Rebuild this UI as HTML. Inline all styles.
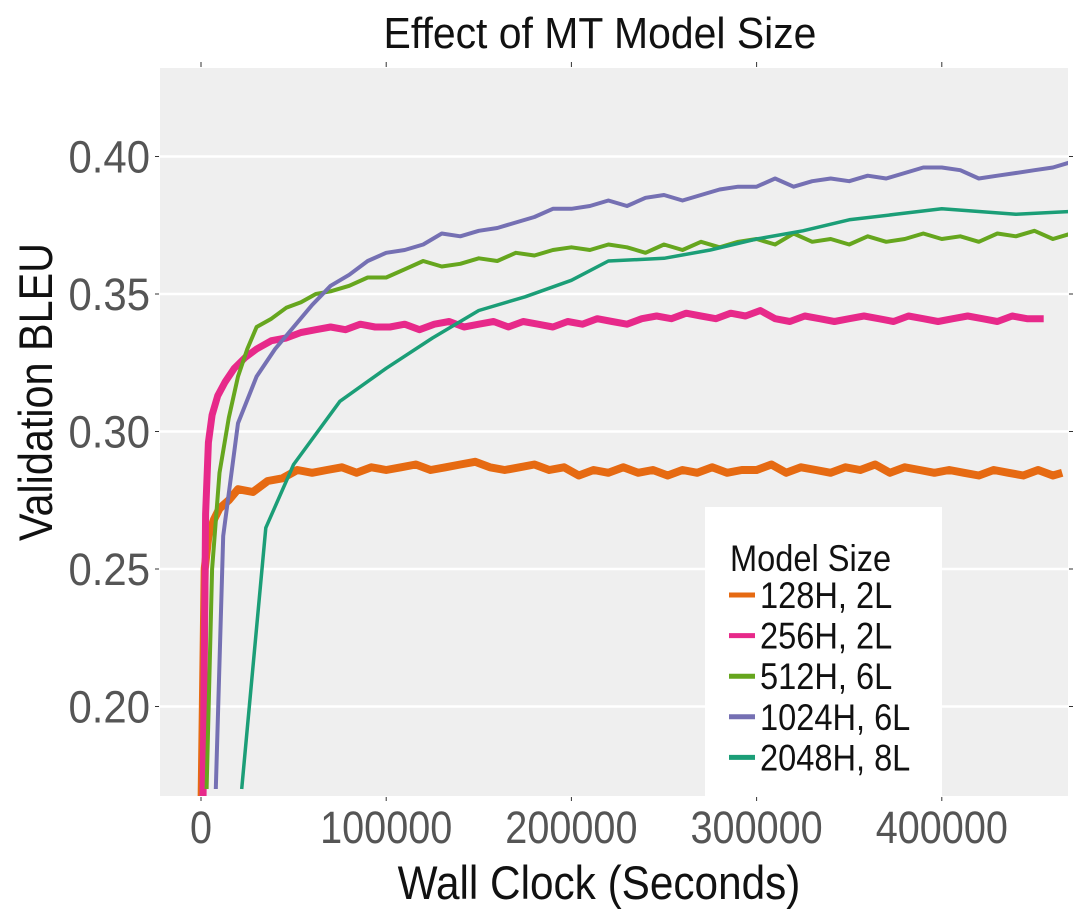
<!DOCTYPE html>
<html><head><meta charset="utf-8"><style>
body{margin:0;background:#fff;}
svg{display:block;font-family:"Liberation Sans",sans-serif;}
</style></head><body>
<svg id="chart" width="1080" height="920">
<rect x="160" y="68" width="908" height="728" fill="#efefef"/>
<g id="grid"></g><g id="ticks"></g><g id="series"></g>
<text class="cond" x="600" y="48" font-size="44" text-anchor="middle" fill="#111" data-f="0.93">Effect of MT Model Size</text>
<text class="cond" x="599" y="899" font-size="47" text-anchor="middle" fill="#111" data-f="0.9">Wall Clock (Seconds)</text>
<text class="cond" transform="translate(52,392) rotate(-90)" font-size="47" text-anchor="middle" fill="#111" data-f="0.88">Validation BLEU</text>
<g>
<rect x="705" y="507" width="237" height="289" fill="#fff"/>
<text class="cond" x="730" y="571" font-size="37" fill="#111">Model Size</text>
<g id="legend-items"></g>
</g>
</svg>
<script>
const xTicks=[0,100000,200000,300000,400000];
const yTicks=[0.20,0.25,0.30,0.35,0.40];
const seriesNames=["128H, 2L","256H, 2L","512H, 6L","1024H, 6L","2048H, 8L"];
const seriesColors=["#e66a12","#e7298a","#66a61e","#7570b3","#1b9e77"];
const orangeX=[0,2000,4000,7000,10000,15000,20000,28000,36000,44000,52000,60000,68000,76000,84000,92000,100000,108000,116000,124000,132000,140000,148000,156000,164000,172000,180000,188000,196000,204000,212000,220000,228000,236000,244000,252000,260000,268000,276000,284000,292000,300000,308000,316000,324000,332000,340000,348000,356000,364000,372000,380000,388000,396000,404000,412000,420000,428000,436000,444000,452000,460000,465000];
const orangeY=[0.15,0.25,0.262,0.268,0.272,0.275,0.279,0.278,0.282,0.283,0.286,0.285,0.286,0.287,0.285,0.287,0.286,0.287,0.288,0.286,0.287,0.288,0.289,0.287,0.286,0.287,0.288,0.286,0.287,0.284,0.286,0.285,0.287,0.285,0.286,0.284,0.286,0.285,0.287,0.285,0.286,0.286,0.288,0.285,0.287,0.286,0.285,0.287,0.286,0.288,0.285,0.287,0.286,0.285,0.286,0.285,0.284,0.286,0.285,0.284,0.286,0.284,0.285];
const pinkX=[1000,2500,4000,6000,9000,13000,18000,24000,30000,38000,46000,54000,62000,70000,78000,86000,94000,102000,110000,118000,126000,134000,142000,150000,158000,166000,174000,182000,190000,198000,206000,214000,222000,230000,238000,246000,254000,262000,270000,278000,286000,294000,302000,310000,318000,326000,334000,342000,350000,358000,366000,374000,382000,390000,398000,406000,414000,422000,430000,438000,446000,455000];
const pinkY=[0.16,0.27,0.296,0.306,0.313,0.318,0.323,0.327,0.33,0.333,0.334,0.336,0.337,0.338,0.337,0.339,0.338,0.338,0.339,0.337,0.339,0.34,0.338,0.339,0.34,0.338,0.34,0.339,0.338,0.34,0.339,0.341,0.34,0.339,0.341,0.342,0.341,0.343,0.342,0.341,0.343,0.342,0.344,0.341,0.34,0.342,0.341,0.34,0.341,0.342,0.341,0.34,0.342,0.341,0.34,0.341,0.342,0.341,0.34,0.342,0.341,0.341];
const greenX=[3000,6000,10000,15000,20000,25000,30000,38000,46000,54000,62000,70000,80000,90000,100000,110000,120000,130000,140000,150000,160000,170000,180000,190000,200000,210000,220000,230000,240000,250000,260000,270000,280000,290000,300000,310000,320000,330000,340000,350000,360000,370000,380000,390000,400000,410000,420000,430000,440000,450000,460000,470000];
const greenY=[0.17,0.25,0.285,0.305,0.32,0.33,0.338,0.341,0.345,0.347,0.35,0.351,0.353,0.356,0.356,0.359,0.362,0.36,0.361,0.363,0.362,0.365,0.364,0.366,0.367,0.366,0.368,0.367,0.365,0.368,0.366,0.369,0.367,0.369,0.37,0.368,0.372,0.369,0.37,0.368,0.371,0.369,0.37,0.372,0.37,0.371,0.369,0.372,0.371,0.373,0.37,0.372];
const purpleX=[8000,12000,20000,30000,40000,50000,60000,70000,80000,90000,100000,110000,120000,130000,140000,150000,160000,170000,180000,190000,200000,210000,220000,230000,240000,250000,260000,270000,280000,290000,300000,310000,320000,330000,340000,350000,360000,370000,380000,390000,400000,410000,420000,430000,440000,450000,460000,470000];
const purpleY=[0.17,0.262,0.303,0.32,0.33,0.338,0.346,0.353,0.357,0.362,0.365,0.366,0.368,0.372,0.371,0.373,0.374,0.376,0.378,0.381,0.381,0.382,0.384,0.382,0.385,0.386,0.384,0.386,0.388,0.389,0.389,0.392,0.389,0.391,0.392,0.391,0.393,0.392,0.394,0.396,0.396,0.395,0.392,0.393,0.394,0.395,0.396,0.398];
const tealX=[22000,35000,50000,75000,100000,125000,150000,175000,200000,220000,250000,275000,300000,325000,350000,375000,400000,420000,440000,470000];
const tealY=[0.17,0.265,0.288,0.311,0.323,0.334,0.344,0.349,0.355,0.362,0.363,0.366,0.37,0.373,0.377,0.379,0.381,0.38,0.379,0.38];
const allX=[orangeX,pinkX,greenX,purpleX,tealX];
const allY=[orangeY,pinkY,greenY,purpleY,tealY];
const widths=[8,7,4,4,3.5];

const NS="http://www.w3.org/2000/svg";
const L=160,R=1068,T=68,B=796;
function sx(v){return 201+(v/100000)*185.2;}
function sy(v){return 569-(v-0.25)*2750;}
const grid=document.getElementById('grid'),ticks=document.getElementById('ticks'),ser=document.getElementById('series');
yTicks.forEach(v=>{
  const y=sy(v);
  const g=document.createElementNS(NS,'line');
  
  
  g.setAttribute('x1',L);g.setAttribute('x2',R);g.setAttribute('y1',y);g.setAttribute('y2',y);
  g.setAttribute('stroke','#fff');g.setAttribute('stroke-width','2.5');grid.appendChild(g);
  [[155,159],[1069,1073]].forEach(p=>{const t=document.createElementNS(NS,'line');
  
  
  t.setAttribute('x1',p[0]);t.setAttribute('x2',p[1]);t.setAttribute('y1',y);t.setAttribute('y2',y);t.setAttribute('stroke','#333');ticks.appendChild(t);});
  const tx=document.createElementNS(NS,'text');
  
  
  tx.setAttribute('class','cond');
  tx.setAttribute('data-f','0.93');
  tx.setAttribute('x',150);tx.setAttribute('y',y+16);tx.setAttribute('text-anchor','end');tx.setAttribute('font-size','45');tx.setAttribute('fill','#555');
  tx.textContent=v.toFixed(2);ticks.appendChild(tx);
});
xTicks.forEach(v=>{
  const x=sx(v);
  const t=document.createElementNS(NS,'line');
  
  
  t.setAttribute('x1',x);t.setAttribute('x2',x);t.setAttribute('y1',62);t.setAttribute('y2',67);t.setAttribute('stroke','#333');ticks.appendChild(t);
  const t2=document.createElementNS(NS,'line');
  
  
  t2.setAttribute('x1',x);t2.setAttribute('x2',x);t2.setAttribute('y1',797);t2.setAttribute('y2',801);t2.setAttribute('stroke','#333');ticks.appendChild(t2);
  const tx=document.createElementNS(NS,'text');
  
  
  tx.setAttribute('class','cond');
  tx.setAttribute('data-f','0.88');
  tx.setAttribute('x',x);tx.setAttribute('y',843);tx.setAttribute('text-anchor','middle');tx.setAttribute('font-size','45');tx.setAttribute('fill','#555');
  tx.textContent=String(v);ticks.appendChild(tx);
});
const clip=document.createElementNS(NS,'clipPath');clip.setAttribute('id','pc');
const cr=document.createElementNS(NS,'rect');cr.setAttribute('x',L);cr.setAttribute('y',T);cr.setAttribute('width',R-L);cr.setAttribute('height',B-T);
clip.appendChild(cr);document.getElementById('chart').appendChild(clip);
ser.setAttribute('clip-path','url(#pc)');
allX.forEach((xs,i)=>{
  const p=document.createElementNS(NS,'polyline');
  
  
  p.setAttribute('points',xs.map((x,j)=>sx(x).toFixed(1)+','+sy(allY[i][j]).toFixed(1)).join(' '));
  p.setAttribute('fill','none');p.setAttribute('stroke',seriesColors[i]);p.setAttribute('stroke-width',widths[i]);p.setAttribute('stroke-linejoin','round');
  ser.appendChild(p);
});
const li=document.getElementById('legend-items');
seriesNames.forEach((n,i)=>{
  const y=595+i*40.6;
  const l=document.createElementNS(NS,'line');
  
  
  l.setAttribute('x1',729);l.setAttribute('x2',755);l.setAttribute('y1',y);l.setAttribute('y2',y);l.setAttribute('stroke',seriesColors[i]);l.setAttribute('stroke-width','5');li.appendChild(l);
  const t=document.createElementNS(NS,'text');
  
  
  t.setAttribute('class','cond');
  t.setAttribute('x',760);t.setAttribute('y',y+13);t.setAttribute('font-size','37');t.setAttribute('fill','#111');t.textContent=n;li.appendChild(t);
});
document.querySelectorAll('text.cond').forEach(t=>{
  const w=t.getComputedTextLength();
  const f=parseFloat(t.getAttribute('data-f')||'0.88');
  t.setAttribute('textLength',(w*f).toFixed(1));
  t.setAttribute('lengthAdjust','spacingAndGlyphs');
});
</script>
</body></html>
